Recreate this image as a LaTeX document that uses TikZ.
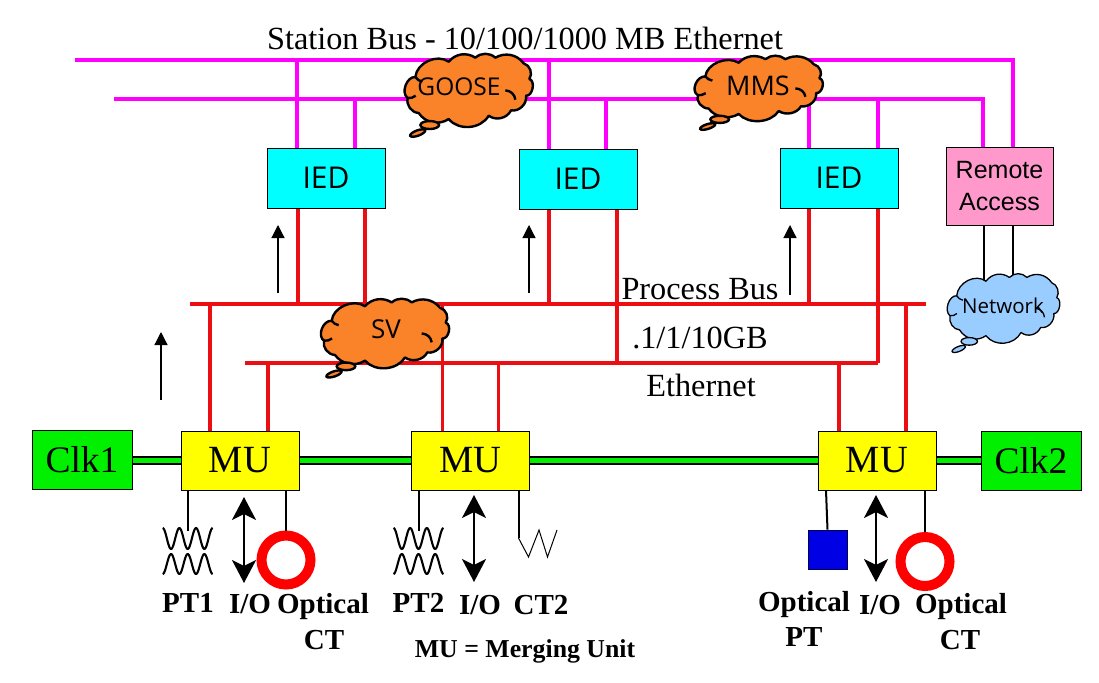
\documentclass[tikz,border=0pt]{standalone}
\usepackage{fontspec}
\setmainfont{Liberation Serif}
\newfontfamily\armfont{Liberation Sans}
\newfontfamily\uifont{Open Sans}
\usetikzlibrary{arrows.meta}
\definecolor{busm}{RGB}{255,0,255}
\definecolor{busr}{RGB}{235,15,20}
\definecolor{cloudo}{RGB}{250,130,40}
\definecolor{cloudb}{RGB}{153,204,255}
\definecolor{iedc}{RGB}{0,255,255}
\definecolor{remc}{RGB}{255,153,204}
\definecolor{clkc}{RGB}{0,240,0}
\definecolor{muc}{RGB}{255,255,0}
\tikzset{
  stationbus/.style={draw=busm,line width=3.6pt},
  processbus/.style={draw=busr,line width=3.6pt},
  boxnode/.style={draw=black,line width=1pt,rectangle,inner sep=0pt,align=center},
  iedbox/.style={boxnode,fill=iedc,minimum width=118pt,minimum height=60pt,font=\uifont\fontsize{30}{32}\selectfont},
  mubox/.style={boxnode,fill=muc,minimum width=118pt,minimum height=59pt,font=\fontsize{38.5}{40}\selectfont},
  clkbox/.style={boxnode,fill=clkc,minimum width=100pt,minimum height=59pt,font=\fontsize{37.5}{39}\selectfont},
  remotebox/.style={boxnode,fill=remc,minimum width=107pt,minimum height=78pt,font=\armfont\fontsize{25}{32}\selectfont},
  synclink/.style={draw=black,line width=2.4pt,double=clkc,double distance=4.4pt},
  wire/.style={draw=black,line width=2pt},
  bothways/.style={draw=black,line width=2.6pt,{Stealth[length=23pt,width=24pt,inset=6pt]}-{Stealth[length=23pt,width=24pt,inset=6pt]}},
  flowup/.style={draw=black,line width=1.2pt,-{Triangle[length=13pt,width=13pt]}},
  ringct/.style={circle,draw=red,line width=10pt,minimum size=49pt,inner sep=0pt,fill=white},
  label/.style={inner sep=0pt,font=\bfseries\fontsize{29}{31}\selectfont,align=center},
  buslabel/.style={inner sep=0pt,font=\fontsize{32.3}{34}\selectfont},
  cloudtext/.style={inner sep=0pt,font=\uifont\fontsize{24.5}{26}\selectfont},
  pics/coil/.style={code={
    \draw[black,line width=2.1pt,line join=round] plot[domain=0:1,samples=70,smooth] ({-25+50*\x},{-12.5-10.5*cos(1080*\x)});
    \draw[black,line width=2.1pt,line join=round] plot[domain=0:1,samples=70,smooth] ({-25+50*\x},{13+10*cos(1080*\x)});
  }}
}
% origin x, origin y, x scale, y scale, line width, fill
\newcommand{\cloudbody}[6]{%
  \begin{scope}[shift={(#1,#2)},xscale=#3/3,yscale=#4/3]
    \path[draw=black,fill=#6,line width=#5,line join=round]
      (-133,-26) to[bend left=60] (-33,-72) to[bend left=42] (47,-84) to[bend left=42] (107,-84)
      to[bend left=42] (192,-67) to[bend left=55] (209,-20) to[bend left=85] (199,30)
      to[bend left=55] (154,74) to[bend left=50] (87,90) to[bend left=55] (-33,100)
      to[bend left=45] (-123,82) to[bend left=50] (-156,37) to[bend left=75] cycle;
    \draw[black,line width=#5] (137,14) to[bend left=40] (167,42);
    \draw[black,line width=#5] (-133,-26) to[bend right=20] (-112,-12);
    \draw[black,line width=#5] (-156,37) to[bend right=20] (-132,30);
    \path[draw=black,fill=#6,line width=#5] (-90,118) ellipse [x radius=28,y radius=12];
    \path[draw=black,fill=#6,line width=#5] (-126,142) [rotate around={20:(-126,142)}] ellipse [x radius=24,y radius=8];
  \end{scope}}
\begin{document}
\begin{tikzpicture}[x=1pt,y=-1pt]
\useasboundingbox (0,0) rectangle (1099,682);
% bus end coordinates
\coordinate (sa) at (75,60);   \coordinate (sb) at (1013,60);
\coordinate (ta) at (114,99);  \coordinate (tb) at (983,99);
\coordinate (pa) at (190,304); \coordinate (pb) at (926,304);
\coordinate (ea) at (245,363); \coordinate (eb) at (878,363);
% boxes
\node[iedbox] (ied1) at (326,178) {IED};
\node[iedbox] (ied2) at (578,179) {IED};
\node[iedbox] (ied3) at (839,178) {IED};
\node[remotebox] (rem) at (999.5,186) {\raisebox{-1pt}{Remote}\\\raisebox{-1pt}{Access}};
\node[mubox] (mu1) at (240,460.5) {\raisebox{-5pt}{MU}};
\node[mubox] (mu2) at (470.5,460.5) {\raisebox{-5pt}{MU}};
\node[mubox] (mu3) at (877,460.5) {\raisebox{-5pt}{MU}};
\node[clkbox] (clk1) at (82,460) {\raisebox{-3pt}{Clk1}};
\node[clkbox] (clk2) at (1031,461) {\raisebox{-3pt}{Clk2}};
% station bus
\draw[stationbus] (sa) -- (sb) -- (sb |- rem.north);
\draw[stationbus] (ta) -- (tb) -- (tb |- rem.north);
\foreach \n/\dx/\base in {ied1/-29/sa,ied1/29/ta,ied2/-29/sa,ied2/28/ta,ied3/-30/ta,ied3/39/ta}
  \draw[stationbus] ([xshift=\dx pt]\n.north) -- ([xshift=\dx pt]\n.north |- \base);
% process bus
\draw[processbus] (pa) -- (pb);
\draw[processbus] (ea) -- (eb);
\foreach \n/\dx/\base in {ied1/-28/pa,ied1/39/ea,ied2/-29/pa,ied2/39/ea,ied3/-30/pa,ied3/39/ea}
  \draw[processbus] ([xshift=\dx pt]\n.south) -- ([xshift=\dx pt]\n.south |- \base);
\foreach \n/\dx/\base in {mu1/-30/pa,mu1/28/ea,mu2/-28/pa,mu2/28/ea,mu3/-38/ea,mu3/29/pa}
  \draw[processbus] ([xshift=\dx pt]\n.north) -- ([xshift=\dx pt]\n.north |- \base);
% sync links
\draw[synclink] (clk1.east |- mu1.west) -- (mu1.west);
\draw[synclink] (mu1.east) -- (mu2.west);
\draw[synclink] (mu2.east) -- (mu3.west);
\draw[synclink] (mu3.east) -- (mu3.east -| clk2.west);
% field devices
\pic at (187.7,551) {coil};
\pic at (418.5,551) {coil};
\node[ringct] (ring1) at (286,560) {};
\node[ringct] (ring2) at (925,561.5) {};
\node[rectangle,draw=black!70!blue,line width=.6pt,fill=blue!90!black,minimum size=39pt,inner sep=0pt] (optpt) at (827.5,549.5) {};
\coordinate (pt1end) at (187.7,531);
\coordinate (pt2end) at (418.5,531);
\draw[wire] (mu1.south -| pt1end) -- (pt1end);
\draw[wire] (mu2.south -| pt2end) -- (pt2end);
\draw[wire] (mu1.south -| ring1) -- (ring1.north);
\draw[wire] (mu3.south -| ring2) -- (ring2.north);
\draw[wire] ([xshift=-51pt]mu3.south) -- (optpt.north);
\coordinate (ct2a) at (518.5,538);
\draw[wire] (mu2.south -| ct2a) -- (ct2a);
\draw[black,line width=1pt] (ct2a) -- (528.5,557) -- (539,530) -- (547.5,557) -- (557,530);
\coordinate (io1a) at (244,497); \coordinate (io1b) at (244,583);
\coordinate (io2a) at (474,495); \coordinate (io2b) at (474,582);
\coordinate (io3a) at (876,495); \coordinate (io3b) at (876,582);
\draw[bothways] (io1a) -- (io1b);
\draw[bothways] (io2a) -- (io2b);
\draw[bothways] (io3a) -- (io3b);
% remote access to network
\coordinate (n1) at (984,280); \coordinate (n2) at (1013,278);
\draw[black,line width=1.3pt] (rem.south -| n1) -- (n1);
\draw[black,line width=1.3pt] (rem.south -| n2) -- (n2);
% flow arrows
\coordinate (f1) at (278,293); \coordinate (f1t) at (278,225);
\coordinate (f2) at (529,293); \coordinate (f2t) at (529,225);
\coordinate (f3) at (790,295); \coordinate (f3t) at (790,225);
\coordinate (f4) at (161,400); \coordinate (f4t) at (161,332);
\draw[flowup] (f1) -- (f1t);
\draw[flowup] (f2) -- (f2t);
\draw[flowup] (f3) -- (f3t);
\draw[flowup] (f4) -- (f4t);
% clouds
\cloudbody{459.7}{85.7}{1}{1}{2.4pt}{cloudo}
\cloudbody{749.7}{84.2}{1}{.894}{2.4pt}{cloudo}
\cloudbody{376}{329}{1}{.95}{2.4pt}{cloudo}
\cloudbody{995.6}{304}{.878}{.95}{1.3pt}{cloudb}
\node[cloudtext] (goose) at (459,87) {GOOSE};
\node[cloudtext,font=\uifont\fontsize{27}{29}\selectfont] (mms) at (758,86) {MMS};
\node[cloudtext,font=\uifont\fontsize{26}{28}\selectfont] (sv) at (386,329) {SV};
\node[cloudtext,font=\uifont\fontsize{20.5}{24}\selectfont] (network) at (1003,306) {Network};
% labels
\node[buslabel] (station) at (525,38) {Station Bus - 10/100/1000 MB Ethernet};
\node[buslabel] (process) at (700,289) {Process Bus};
\node[buslabel] (speed) at (700,338) {.1/1/10GB};
\node[buslabel] (ether) at (701,385) {Ethernet};
\node[label] at (188,603) {PT1};
\node[label] at (250,604) {I/O};
\node[label] at (323,607) {Optical};
\node[label] at (324,640) {CT};
\node[label] at (418.5,603) {PT2};
\node[label] at (480,605) {I/O};
\node[label] at (541,605) {CT2};
\node[label,font=\bfseries\fontsize{25.8}{28}\selectfont] at (525,651) {MU = Merging Unit};
\node[label] at (804,605) {Optical};
\node[label] at (804,637) {PT};
\node[label] at (880,605) {I/O};
\node[label] at (961,607) {Optical};
\node[label] at (960,640) {CT};
\end{tikzpicture}
\end{document}
